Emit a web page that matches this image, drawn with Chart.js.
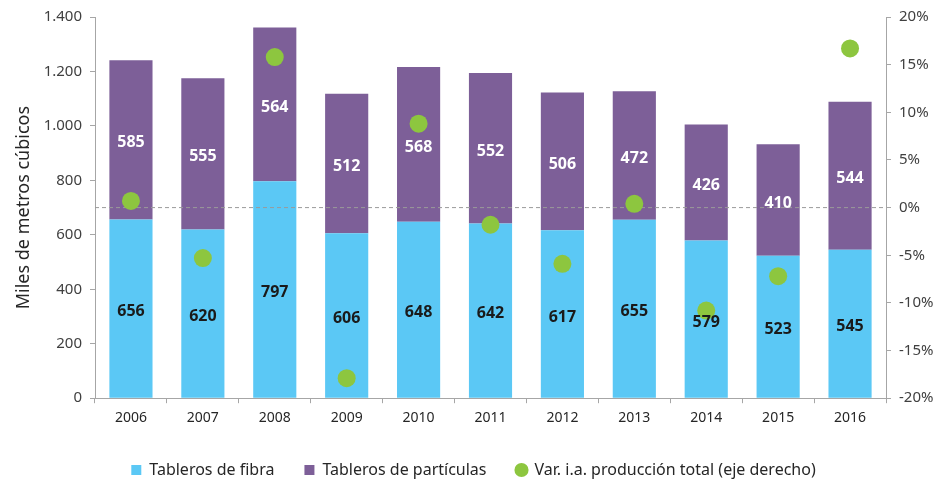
<!DOCTYPE html>
<html>
<head>
<meta charset="utf-8">
<script src="https://cdn.jsdelivr.net/npm/chart.js@4/dist/chart.umd.min.js"></script>
<style>
  html, body { margin: 0; padding: 0; background: #fff; }
  #wrap { width: 947px; height: 488px; }
</style>
</head>
<body>
<div id="wrap"><canvas id="chart"></canvas></div>
<script>
// data
const years = ['2006', '2007', '2008', '2009', '2010', '2011', '2012', '2013', '2014', '2015', '2016'];
const fibra = [656, 620, 797, 606, 648, 642, 617, 655, 579, 523, 545];
const particulas = [585, 555, 564, 512, 568, 552, 506, 472, 426, 410, 544];
const variacion = [0.7, -5.3, 15.8, -17.9, 8.8, -1.8, -5.9, 0.4, -10.8, -7.2, 16.7];

const FONT = "'Noto Sans', sans-serif";
const axisGray = '#a6a6a6';
const textGray = '#404040';

function fmtMiles(v) {
    return String(v).replace(/\B(?=(\d{3})+(?!\d))/g, '.');
}

// zero line of the right axis, dashed, drawn over the bars
const zeroLine = {
    id: 'zeroLine',
    beforeDatasetDraw(chart, args) {
        if (args.index !== 2) return;
        const y = chart.scales.y1.getPixelForValue(0);
        const { left, right } = chart.chartArea;
        const ctx = chart.ctx;
        ctx.save();
        ctx.strokeStyle = '#9a9a9a';
        ctx.lineWidth = 1;
        ctx.setLineDash([4, 3]);
        ctx.beginPath();
        ctx.moveTo(left, y);
        ctx.lineTo(right, y);
        ctx.stroke();
        ctx.restore();
    }
};

// numbers inside the bar segments
const barLabels = {
    id: 'barLabels',
    afterDatasetsDraw(chart) {
        const ctx = chart.ctx;
        ctx.save();
        ctx.font = "bold 16px " + FONT;
        ctx.textAlign = 'center';
        ctx.textBaseline = 'middle';
        [0, 1].forEach(function (di) {
            const meta = chart.getDatasetMeta(di);
            ctx.fillStyle = di === 0 ? '#1a1a1a' : '#ffffff';
            meta.data.forEach(function (bar, i) {
                const mid = (bar.y + bar.base) / 2;
                ctx.fillText(chart.data.datasets[di].data[i], bar.x, mid + 3);
            });
        });
        ctx.restore();
    }
};

const config = {
    type: 'bar',
    data: {
        labels: years,
        datasets: [
            {
                label: 'Tableros de fibra',
                data: fibra,
                backgroundColor: '#5bc8f5',
                stack: 's',
                yAxisID: 'y',
                barPercentage: 0.6,
                categoryPercentage: 1
            },
            {
                label: 'Tableros de partículas',
                data: particulas,
                backgroundColor: '#7d5f98',
                stack: 's',
                yAxisID: 'y',
                barPercentage: 0.6,
                categoryPercentage: 1
            },
            {
                type: 'line',
                label: 'Var. i.a. producción total (eje derecho)',
                data: variacion,
                yAxisID: 'y1',
                showLine: false,
                order: -1,
                pointRadius: 9,
                pointHoverRadius: 9,
                pointBackgroundColor: '#8dc63f',
                pointBorderWidth: 0,
                backgroundColor: '#8dc63f',
                borderColor: '#8dc63f'
            }
        ]
    },
    options: {
        responsive: true,
        maintainAspectRatio: false,
        animation: false,
        layout: { padding: { top: 13, left: 0, right: 0, bottom: 0 } },
        plugins: {
            tooltip: { enabled: false },
            legend: {
                position: 'bottom',
                labels: {
                    usePointStyle: true,
                    boxWidth: 10,
                    boxHeight: 10,
                    padding: 30,
                    color: '#262626',
                    font: { family: FONT, size: 16 },
                    sort: (a, b) => a.datasetIndex - b.datasetIndex,
                    generateLabels(chart) {
                        const items = Chart.defaults.plugins.legend.labels.generateLabels(chart);
                        items.forEach(function (it) {
                            it.pointStyle = it.datasetIndex === 2 ? 'circle' : 'rect';
                            it.lineWidth = 0;
                            it.strokeStyle = 'transparent';
                        });
                        return items;
                    }
                }
            }
        },
        scales: {
            x: {
                stacked: true,
                grid: { drawOnChartArea: false, color: axisGray, tickLength: 5 },
                border: { color: axisGray },
                ticks: { color: '#262626', font: { family: FONT, size: 14 }, padding: 6 }
            },
            y: {
                stacked: true,
                position: 'left',
                min: 0,
                max: 1400,
                ticks: {
                    stepSize: 200,
                    color: textGray,
                    font: { family: FONT, size: 15 },
                    padding: 8,
                    callback: v => fmtMiles(v)
                },
                grid: { drawOnChartArea: false, color: axisGray, tickLength: 5 },
                border: { color: axisGray },
                title: {
                    display: true,
                    text: 'Miles de metros cúbicos',
                    color: '#262626',
                    font: { family: FONT, size: 18 },
                    padding: { top: 13, bottom: 0 }
                },
                afterFit(scale) { scale.width = 95; }
            },
            y1: {
                position: 'right',
                min: -20,
                max: 20,
                ticks: {
                    stepSize: 5,
                    color: textGray,
                    font: { family: FONT, size: 15 },
                    padding: 8,
                    callback: v => v + '%'
                },
                grid: { drawOnChartArea: false, color: axisGray, tickLength: 5 },
                border: { color: axisGray },
                afterFit(scale) { scale.width = 61; }
            }
        }
    },
    plugins: [zeroLine, barLabels]
};

new Chart(document.getElementById('chart'), config);
</script>
</body>
</html>
